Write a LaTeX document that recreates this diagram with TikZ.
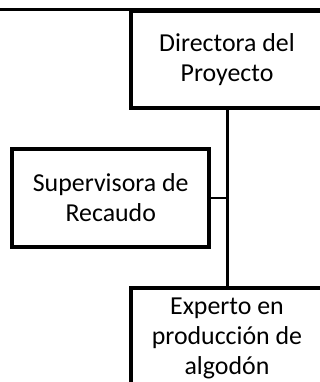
\documentclass[tikz,border=0pt]{standalone}
\usepackage{fontspec}
\setmainfont{Carlito}
\usetikzlibrary{positioning}

\begin{document}
\begin{tikzpicture}[x=0.75pt, y=-0.75pt,
        role/.style={draw=black, line width=3pt, minimum width=144.75pt,
                     minimum height=72.75pt, align=center, inner sep=2pt,
                     font=\fontsize{19.4}{22.5}\selectfont},
      ]
      \useasboundingbox (0,0) rectangle (320,382);
      \draw[line width=2.25pt] (0,9) -- (330,9);
      \node[role] (dir) at (227,59.5) {Directora del\\Proyecto};
      \node[role, minimum width=147.4pt, minimum height=73.5pt] (sup) at (110.75,198)
            {Supervisora de\\Recaudo};
      \node[role, minimum height=75pt] (exp) at (227,338)
            {Experto en\\producción de\\algodón};
      \draw[line width=2.25pt] (dir.south) -- (exp.north);
      \draw[line width=1.2pt] (sup.east) -- (sup.east -| dir.south);
    \end{tikzpicture}
\end{document}
